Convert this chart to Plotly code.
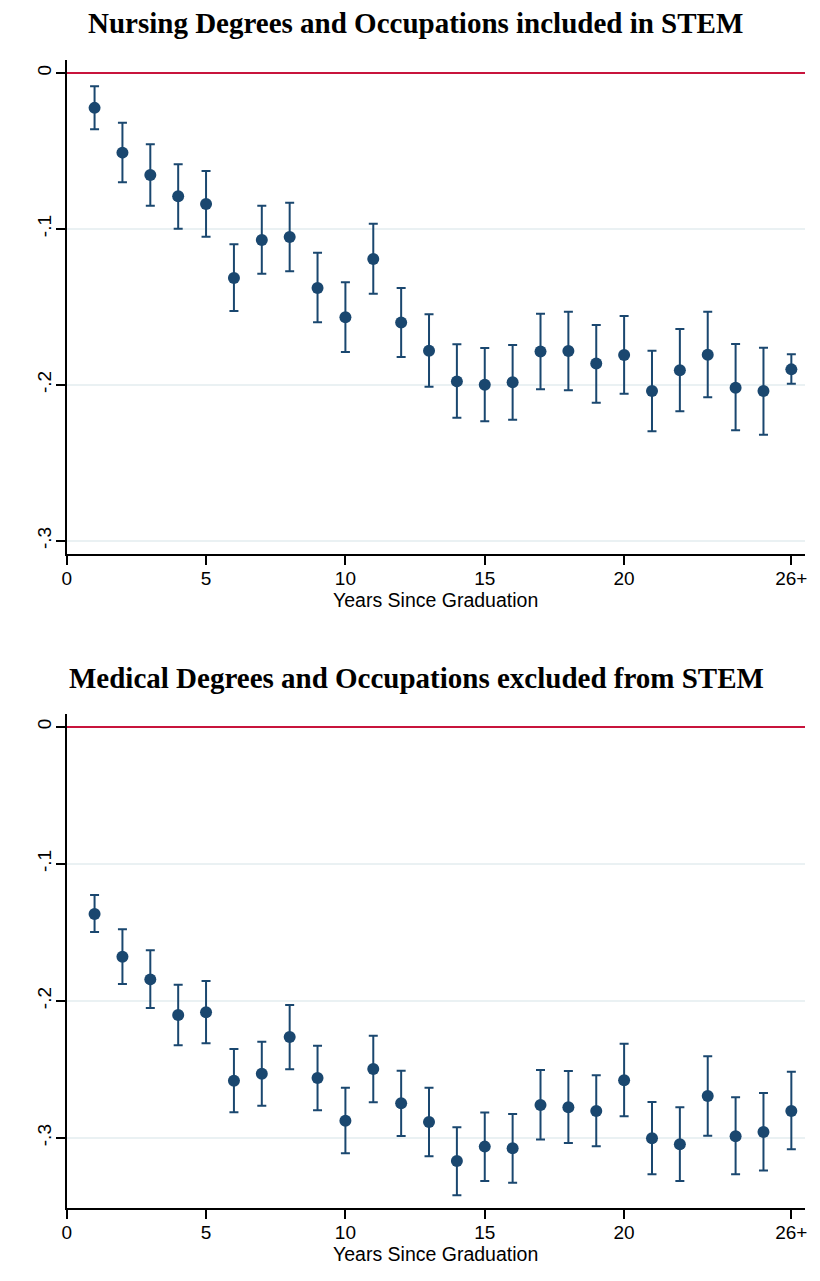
import plotly.graph_objects as go

# ---------------- data ----------------
years = list(range(1, 27))
x_tickvals = [0, 5, 10, 15, 20, 26]
x_ticktext = ["0", "5", "10", "15", "20", "26+"]
y_tickvals = [0, -0.1, -0.2, -0.3]
y_ticktext = ["0", "-.1", "-.2", "-.3"]

title_top = "Nursing Degrees and Occupations included in STEM"
title_bottom = "Medical Degrees and Occupations excluded from STEM"
x_title = "Years Since Graduation"

nursing_est = [-0.0224, -0.0511, -0.0654, -0.0791, -0.0840, -0.1315, -0.1071, -0.1052,
               -0.1379, -0.1567, -0.1193, -0.1601, -0.1781, -0.1978, -0.1999, -0.1984,
               -0.1787, -0.1783, -0.1864, -0.1809, -0.2040, -0.1907, -0.1807, -0.2019,
               -0.2040, -0.1901]
nursing_hi = [-0.0085, -0.0319, -0.0458, -0.0586, -0.0629, -0.1099, -0.0851, -0.0832,
              -0.1153, -0.1343, -0.0967, -0.1379, -0.1548, -0.1740, -0.1764, -0.1745,
              -0.1544, -0.1531, -0.1616, -0.1559, -0.1781, -0.1642, -0.1531, -0.1738,
              -0.1762, -0.1804]
nursing_lo = [-0.0361, -0.0701, -0.0851, -0.0999, -0.1050, -0.1527, -0.1287, -0.1272,
              -0.1599, -0.1790, -0.1416, -0.1822, -0.2012, -0.2211, -0.2234, -0.2224,
              -0.2029, -0.2035, -0.2115, -0.2057, -0.2298, -0.2170, -0.2080, -0.2292,
              -0.2320, -0.1993]

medical_est = [-0.1366, -0.1678, -0.1843, -0.2103, -0.2083, -0.2582, -0.2531, -0.2263,
               -0.2562, -0.2874, -0.2497, -0.2747, -0.2883, -0.3168, -0.3063, -0.3075,
               -0.2759, -0.2776, -0.2803, -0.2579, -0.3002, -0.3046, -0.2694, -0.2988,
               -0.2956, -0.2803]
medical_hi = [-0.1228, -0.1478, -0.1631, -0.1882, -0.1855, -0.2351, -0.2298, -0.2030,
              -0.2327, -0.2633, -0.2254, -0.2509, -0.2633, -0.2922, -0.2815, -0.2825,
              -0.2504, -0.2511, -0.2543, -0.2312, -0.2737, -0.2776, -0.2404, -0.2703,
              -0.2672, -0.2516]
medical_lo = [-0.1497, -0.1877, -0.2052, -0.2324, -0.2309, -0.2813, -0.2764, -0.2499,
              -0.2798, -0.3112, -0.2740, -0.2985, -0.3134, -0.3418, -0.3314, -0.3326,
              -0.3012, -0.3037, -0.3061, -0.2842, -0.3265, -0.3314, -0.2983, -0.3265,
              -0.3238, -0.3082]

# ---------------- style ----------------
W, H = 820, 1281
NAVY = "#1a476f"
RED = "#c8143c"
GRID = "#eaf1f3"
TICK_FONT = dict(family="Liberation Sans, Arial, sans-serif", size=19, color="black")
AXT_FONT = dict(family="Liberation Sans, Arial, sans-serif", size=19.5, color="black")
TITLE_FONT = dict(family="Liberation Serif, Times New Roman, serif", size=29, color="black")


def px_x(p):
    return p / W


def px_y(p):
    return 1 - p / H


fig = go.Figure()


def add_series(est, hi, lo, xa, ya):
    plus = [h - e for h, e in zip(hi, est)]
    minus = [e - l for e, l in zip(est, lo)]
    fig.add_trace(go.Scatter(
        x=years, y=est, mode="markers", xaxis=xa, yaxis=ya,
        marker=dict(color=NAVY, size=12),
        error_y=dict(type="data", symmetric=False, array=plus, arrayminus=minus,
                     color=NAVY, thickness=2, width=4.5),
        showlegend=False,
    ))


add_series(nursing_est, nursing_hi, nursing_lo, "x", "y")
add_series(medical_est, medical_hi, medical_lo, "x2", "y2")

x_dom = [px_x(66.7), px_x(805)]


def xaxis(anchor):
    return dict(
        domain=x_dom, anchor=anchor, range=[0, 26.49], automargin=False,
        tickmode="array", tickvals=x_tickvals, ticktext=x_ticktext,
        ticks="outside", ticklen=9, tickwidth=1.5, tickcolor="black",
        ticklabelstandoff=-3,
        showline=True, linecolor="black", linewidth=1.5,
        showgrid=False, zeroline=False, tickfont=TICK_FONT,
    )


def yaxis(anchor, rng, dom):
    return dict(
        domain=dom, anchor=anchor, range=rng, automargin=False,
        tickmode="array", tickvals=y_tickvals, ticktext=y_ticktext,
        ticks="outside", ticklen=9, tickwidth=1.5, tickcolor="black",
        tickangle=-90, ticklabelstandoff=-3,
        showline=True, linecolor="black", linewidth=1.5,
        showgrid=True, gridcolor=GRID, gridwidth=1.5,
        zeroline=True, zerolinecolor=RED, zerolinewidth=2,
        tickfont=TICK_FONT,
    )


def text_note(text, xp, yp, font):
    return dict(text=text, x=px_x(xp), y=px_y(yp), xref="paper", yref="paper",
                xanchor="center", yanchor="middle", showarrow=False, font=font)


fig.update_layout(
    width=W, height=H,
    margin=dict(l=0, r=0, t=0, b=0, autoexpand=False),
    paper_bgcolor="white", plot_bgcolor="white",
    xaxis=xaxis("y"),
    yaxis=yaxis("x", [-0.3085, 0.0083], [px_y(554), px_y(60)]),
    xaxis2=xaxis("y2"),
    yaxis2=yaxis("x2", [-0.3513, 0.0093], [px_y(1208.3), px_y(714)]),
    annotations=[
        text_note("<b>%s</b>" % title_top, 415, 23, TITLE_FONT),
        text_note("<b>%s</b>" % title_bottom, 416, 678, TITLE_FONT),
        text_note(x_title, 435, 600, AXT_FONT),
        text_note(x_title, 435, 1254, AXT_FONT),
    ],
)

fig.write_html("out.html", config={"displayModeBar": False},
               post_script="document.body.style.margin='0';document.body.style.padding='0';")
